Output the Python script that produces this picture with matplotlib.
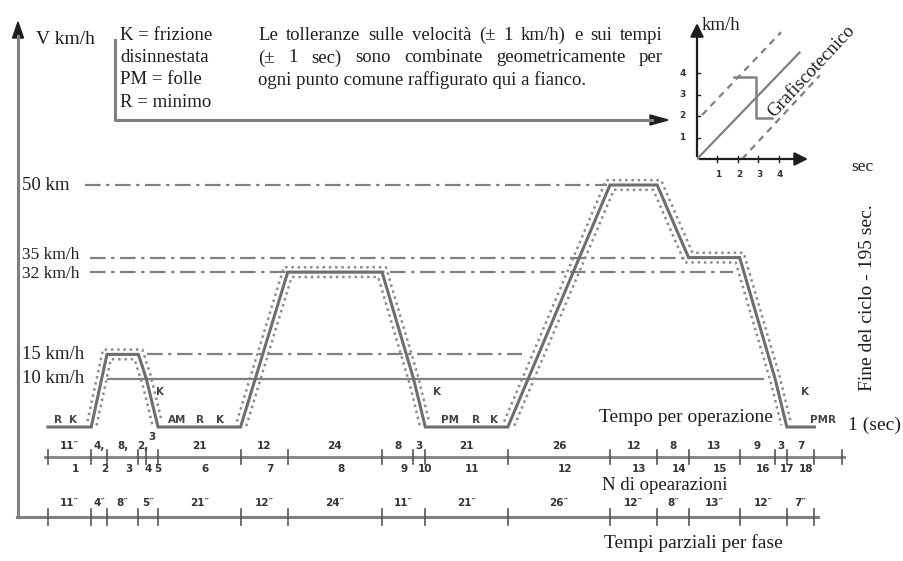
import numpy as np
import matplotlib.pyplot as plt
from matplotlib.transforms import Affine2D
from matplotlib.patches import Polygon

# ciclo urbano: istanti (s) e velocità (km/h)
ciclo_t = [0, 11, 15, 23, 25, 28, 49, 61, 85, 93, 96, 117, 143, 155, 163, 176, 185, 188, 195]
ciclo_v = [0, 0, 15, 15, 10, 0, 0, 32, 32, 10, 0, 0, 50, 50, 35, 35, 10, 0, 0]
tol_t = 1.0   # ± 1 sec
tol_v = 1.0   # ± 1 km/h

# tempo per operazione (s) e numero operazione
durata_op = [11, 4, 8, 2, 3, 21, 12, 24, 8, 3, 21, 26, 12, 8, 13, 9, 3, 7]
etichette_op = ["11\u2033", "4,", "8,", "2,", "3", "21", "12", "24", "8", "3",
                "21", "26", "12", "8", "13", "9", "3", "7"]
numeri_op = [str(i) for i in range(1, 19)]

# tempi parziali per fase (s)
durata_fase = [11, 4, 8, 5, 21, 12, 24, 11, 21, 26, 12, 8, 13, 12, 7]

# linee di riferimento tratto-punto: velocità, inizio, fine (s)
rif_v = [50, 35, 32, 15]
rif_inizio = [9.4, 10.7, 10.7, 25.2]
rif_fine = [142.2, 162.8, 174.3, 120.6]
rif_etichette = ["50 km", "35 km/h", "32 km/h", "15 km/h"]
# linea continua a 10 km/h
lin10_v, lin10_inizio, lin10_fine = 10, 15.3, 181.9

# schemino delle tolleranze
sch_t = [0, 5]
sch_v = [0, 4.95]
sch_sup_t = [0.25, 4.1]
sch_sup_v = [2.05, 5.9]
sch_inf_t = [2.2, 6.0]
sch_inf_v = [0.0, 3.9]
gradino_t = [1.8, 2.9, 2.9, 3.65]
gradino_v = [3.8, 3.8, 1.9, 1.9]

GRIGIO = "#808080"
NERO = "#1e1e1e"
SERIF = "Liberation Serif"

W, H = 904, 561
fig = plt.figure(figsize=(W / 100, H / 100), dpi=100)
fig.patch.set_facecolor("white")

# coordinate in pixel (origine in alto a sinistra)
pix = Affine2D().scale(1 / W, -1 / H).translate(0, 1) + fig.transFigure

# asse principale: tempo in s, velocità in km/h
T0, SX = 48, 3.93
V0, SY = 427, 4.84
ax = fig.add_axes([0, 0, 1, 1])
ax.set_xlim((0 - T0) / SX, (W - T0) / SX)
ax.set_ylim((V0 - H) / SY, V0 / SY)
ax.axis("off")


def freccia(x, y, verso, lung=16, larg=11):
    if verso == "su":
        pts = [(x, y), (x - larg / 2, y + lung), (x + larg / 2, y + lung)]
    else:
        pts = [(x, y), (x - lung, y - larg / 2), (x - lung, y + larg / 2)]
    ax.add_patch(Polygon(pts, closed=True, color=NERO, transform=pix, clip_on=False))


# asse verticale V km/h
ax.plot([18, 18], [517, 36], color=GRIGIO, lw=2.2, transform=pix, clip_on=False)
freccia(18, 22, "su")
ax.text(36, 40, "V km/h", transform=pix, family=SERIF, fontsize=14, color=NERO, va="center")

# riquadro legenda con freccia
ax.plot([115, 115, 652], [40, 120, 120], color=GRIGIO, lw=2.2, transform=pix, clip_on=False)
freccia(668, 120, "dx", lung=18, larg=10)
legenda = ["K = frizione", "disinnestata", "PM = folle", "R = minimo"]
for i, riga in enumerate(legenda):
    ax.text(120, 35 + 22.5 * i, riga, transform=pix, family=SERIF, fontsize=13.5,
            color=NERO, va="center")

nota = ["Le tolleranze sulle velocità (± 1 km/h) e sui tempi",
        "(± 1 sec) sono combinate geometricamente per",
        "ogni punto comune raffigurato qui a fianco."]
renderer = fig.canvas.get_renderer()


def riga_giustificata(testo, x0, x1, y):
    parole = testo.split()
    oggetti = [ax.text(0, y, p, transform=pix, family=SERIF, fontsize=13.5,
                       color=NERO, va="center") for p in parole]
    larg = [o.get_window_extent(renderer).width for o in oggetti]
    spazio = (x1 - x0 - sum(larg)) / (len(parole) - 1)
    x = x0
    for o, w in zip(oggetti, larg):
        o.set_position((x, y))
        x += w + spazio


riga_giustificata(nota[0], 258, 663, 35)
riga_giustificata(nota[1], 258, 663, 58)
ax.text(258, 80, nota[2], transform=pix, family=SERIF, fontsize=13.5, color=NERO, va="center")

# linee di riferimento (35 e 32 sono vicine: etichette un po' scostate)
scosta = {35: 0.45, 32: -0.45}
for v, a, b, lab in zip(rif_v, rif_inizio, rif_fine, rif_etichette):
    ax.plot([a, b], [v, v], color=GRIGIO, lw=1.6, ls=(0, (7, 2.5, 1.5, 2.5)))
    dim = 12.5 if v in scosta else 13.5
    ax.text(-6.6, v + scosta.get(v, 0), lab, family=SERIF, fontsize=dim, color=NERO, va="center")
ax.plot([lin10_inizio, lin10_fine], [lin10_v, lin10_v], color=GRIGIO, lw=1.6)
ax.text(-6.6, lin10_v, "10 km/h", family=SERIF, fontsize=13.5, color=NERO, va="center")

# banda di tolleranza (± tol_t, ± tol_v) attorno al ciclo
passo = 0.05
tf = np.arange(0, ciclo_t[-1] + passo / 2, passo)
vf = np.interp(tf, ciclo_t, ciclo_v)
n = int(round(tol_t / passo))
finestre = np.lib.stride_tricks.sliding_window_view(np.pad(vf, n, mode="edge"), 2 * n + 1)
sup = finestre.max(axis=1) + tol_v
inf = finestre.min(axis=1) - tol_v
sup[sup <= tol_v + 1e-6] = np.nan
inf[inf <= 0.2] = np.nan
ax.plot(tf, sup, color="#8c8c8c", lw=1.8, ls=(0, (1, 1.5)))
ax.plot(tf, inf, color="#8c8c8c", lw=1.8, ls=(0, (1, 1.5)))

# ciclo
ax.plot(ciclo_t, ciclo_v, color="#6e6e6e", lw=2.2, solid_joinstyle="miter")

# sigle sul ciclo
sigle = [("R", 58, 420), ("K", 73, 420), ("K", 160, 392), ("AM", 177, 420), ("R", 200, 420),
         ("K", 220, 420), ("K", 437, 392), ("PM", 450, 420), ("R", 476, 420), ("K", 494, 420),
         ("K", 805, 392), ("PMR", 823, 420)]
for s, x, y in sigle:
    ax.text(x, y, s, transform=pix, fontsize=7.5, fontweight="bold", color="#444444",
            ha="center", va="center")

# asse delle operazioni
y_op = -6.2
bordi_op = np.concatenate([[0], np.cumsum(durata_op)])
ax.plot([-0.8, 202.5], [y_op, y_op], color=GRIGIO, lw=2)
for b in list(bordi_op) + [202]:
    ax.plot([b, b], [y_op - 1.5, y_op + 1.5], color="#555555", lw=1.2)
centri_op = (bordi_op[:-1] + bordi_op[1:]) / 2
for i, (c, e, num) in enumerate(zip(centri_op, etichette_op, numeri_op)):
    alto = -2.1 if i == 4 else -3.9
    ax.text(c, alto, e, fontsize=7.5, fontweight="bold", color="#333333", ha="center", va="center")
    ax.text(c + 1.5, -8.7, num, fontsize=7.5, fontweight="bold", color="#333333",
            ha="center", va="center")

# asse dei tempi parziali per fase
y_fase = -18.6
bordi_fase = np.concatenate([[0], np.cumsum(durata_fase)])
ax.plot([-7.9, 196], [y_fase, y_fase], color=GRIGIO, lw=2.2)
for b in bordi_fase:
    ax.plot([b, b], [y_fase - 1.6, y_fase + 1.6], color="#555555", lw=1.2)
centri_fase = (bordi_fase[:-1] + bordi_fase[1:]) / 2
for c, d in zip(centri_fase, durata_fase):
    ax.text(c, -15.7, f"{d}\u2033", fontsize=7.5, fontweight="bold", color="#333333",
            ha="center", va="center")

# didascalie
ax.text(686, 418, "Tempo per operazione", transform=pix, family=SERIF, fontsize=14,
        color=NERO, ha="center", va="center")
ax.text(848, 425, "1 (sec)", transform=pix, family=SERIF, fontsize=14, color=NERO, va="center")
ax.text(665, 486, "N di opearazioni", transform=pix, family=SERIF, fontsize=13.5,
        color=NERO, ha="center", va="center")
ax.text(693, 543, "Tempi parziali per fase", transform=pix, family=SERIF, fontsize=14,
        color=NERO, ha="center", va="center")
ax.text(868, 298, "Fine del ciclo - 195 sec.", transform=pix, family=SERIF, fontsize=14,
        color=NERO, ha="center", va="center", rotation=90)

# schemino delle tolleranze in alto a destra
UX, UY = 20.5, 21.5
ox, oy = 697, 159
ins = fig.add_axes([ox / W, 1 - (oy + 20) / H, 180 / W, 165 / H])
ins.set_xlim(0, 180 / UX)
ins.set_ylim(-20 / UY, 145 / UY)
ins.axis("off")
ins.annotate("", xy=(5.55, 0), xytext=(0, 0),
             arrowprops=dict(arrowstyle="-|>", color=NERO, lw=1.6, mutation_scale=20))
ins.annotate("", xy=(0, 6.45), xytext=(0, 0),
             arrowprops=dict(arrowstyle="-|>", color=NERO, lw=1.6, mutation_scale=20))
ins.plot(sch_t, sch_v, color=GRIGIO, lw=1.6)
ins.plot(sch_sup_t, sch_sup_v, color=GRIGIO, lw=1.6, ls=(0, (3, 2.5)))
ins.plot(sch_inf_t, sch_inf_v, color=GRIGIO, lw=1.6, ls=(0, (3, 2.5)))
ins.plot(gradino_t, gradino_v, color=GRIGIO, lw=1.8)
for k in range(1, 5):
    ins.plot([k, k], [-0.12, 0.12], color=NERO, lw=1)
    ins.plot([-0.15, 0.15], [k, k], color=NERO, lw=1)
    ins.text(k + 0.05, -0.7, str(k), fontsize=6.5, fontweight="bold", color="#333333",
             ha="center", va="center")
    ins.text(-0.7, k, str(k), fontsize=6.5, fontweight="bold", color="#333333",
             ha="center", va="center")
ax.text(702, 25, "km/h", transform=pix, family=SERIF, fontsize=13.5, color=NERO, va="center")
ax.text(862, 167, "sec", transform=pix, family=SERIF, fontsize=12.5, color=NERO,
        ha="center", va="center")
ax.text(812, 71, "Grafiscotecnico", transform=pix, family=SERIF, fontsize=13.5, color=NERO,
        ha="center", va="center", rotation=47, rotation_mode="anchor")

fig.savefig("out.png", dpi=100, facecolor="white")
